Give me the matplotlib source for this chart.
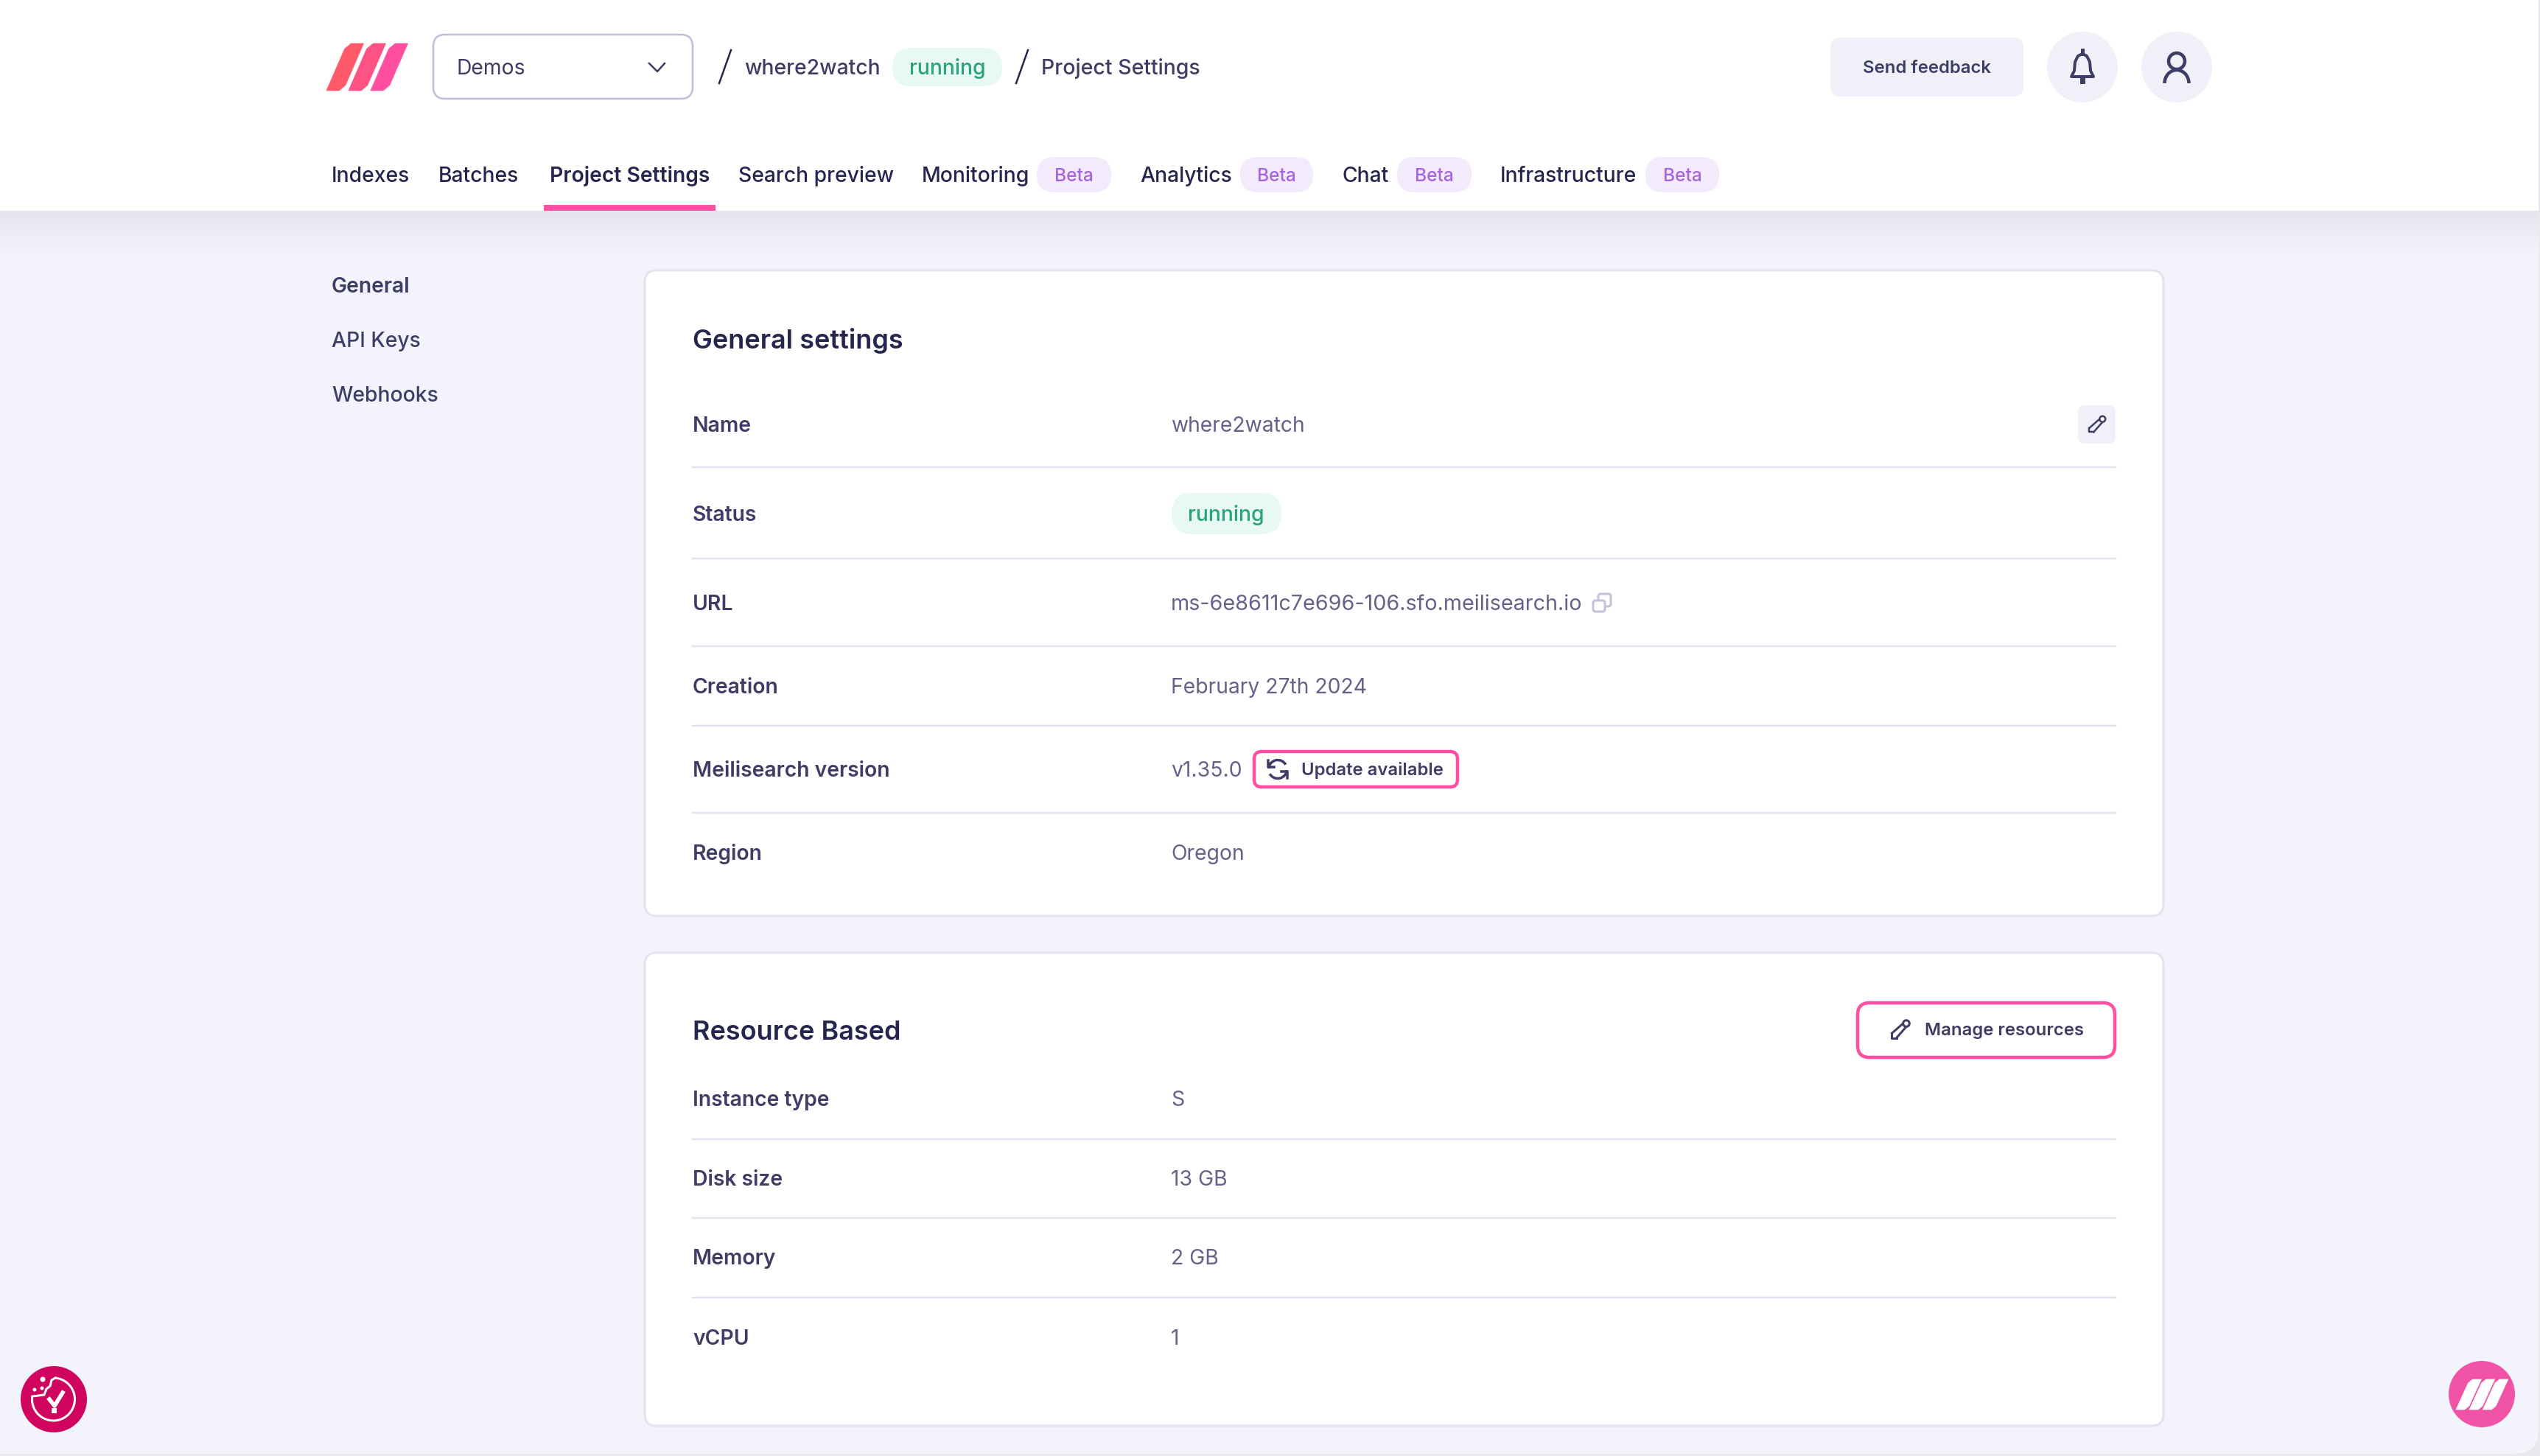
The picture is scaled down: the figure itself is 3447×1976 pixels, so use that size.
import numpy as np
import matplotlib
matplotlib.use('Agg')
import matplotlib.pyplot as plt
from matplotlib.patches import FancyBboxPatch, Rectangle, Circle, Polygon, Arc

plt.rcParams['font.family'] = ['Inter', 'DejaVu Sans']

W, H = 3448, 1976

INK = '#26254d'
LABEL = '#3f3d66'
VALUE = '#65628a'
PINK = '#ff4fa3'
LINE = '#e3e3f0'
PAGE = '#f3f3fb'
SOFT = '#f0f0f8'

BODY = 28.3
SMALL = 23.9

nav_labels = ['Indexes', 'Batches', 'Project Settings', 'Search preview', 'Monitoring', 'Analytics', 'Chat', 'Infrastructure']
nav_x = [450, 595, 746, 1002, 1251, 1547, 1822, 2036]
beta_pills = [(1407, 1508), (1683, 1782), (1896, 1997), (2233, 2333)]

side_labels = ['General', 'API Keys', 'Webhooks']
side_y = [387, 461, 535]

general_labels = ['Name', 'Status', 'URL', 'Creation', 'Meilisearch version', 'Region']
general_values = ['where2watch', 'running', 'ms-6e8611c7e696-106.sfo.meilisearch.io', 'February 27th 2024', 'v1.35.0', 'Oregon']
general_y = [576, 697, 818, 931, 1044, 1157]
general_sep = [634, 758, 877, 985, 1103]

resource_labels = ['Instance type', 'Disk size', 'Memory', 'vCPU']
resource_values = ['S', '13 GB', '2 GB', '1']
resource_y = [1491, 1599, 1706, 1815]
resource_sep = [1546, 1653, 1761]


def lw(px):
    return px * 0.72


def txt(x, yc, s, size=BODY, color=INK, weight='normal', ha='left'):
    # yc is the middle of the cap height, so mixed strings share a baseline
    ax.text(x, yc + 0.36 * size, s, fontsize=size * 0.72, color=color, weight=weight,
            ha=ha, va='baseline')


def box(x0, y0, x1, y1, r, face='white', edge='none', width=0, z=1):
    ax.add_patch(FancyBboxPatch((x0, y0), x1 - x0, y1 - y0, boxstyle=f'round,pad=0,rounding_size={r}',
                                facecolor=face, edgecolor=edge, linewidth=lw(width), zorder=z))


def slanted_bars(x0, y0, x1, y1, colors, bar, pitch, lean, z=3):
    span = x1 - x0
    w, p, s = bar * span, pitch * span, lean * span
    c = w * 0.3
    for i, col in enumerate(colors):
        left = x0 + i * p
        ax.add_patch(Polygon([(left, y1), (left + s - c * 0.2, y0 + c), (left + s + c, y0), (left + s + w, y0),
                              (left + w + c * 0.2, y1 - c), (left + w - c, y1)],
                             closed=True, facecolor=col, edgecolor=col, linewidth=0.5, joinstyle='round', zorder=z))


def pencil(cx, cy, size, color=LABEL, width=3):
    d = size / 2
    gap = size * 0.17
    ax.plot([cx - d, cx + d - gap], [cy + d - gap * 1.6, cy - d], color=color, lw=lw(width), zorder=4)
    ax.plot([cx - d + gap * 1.6, cx + d], [cy + d, cy - d + gap], color=color, lw=lw(width), zorder=4)
    ax.plot([cx - d, cx - d, cx - d + gap * 1.6], [cy + d - gap * 1.6, cy + d, cy + d], color=color, lw=lw(width), zorder=4)
    ax.add_patch(Circle((cx + d - gap * 0.9, cy - d + gap * 0.9), gap * 1.1, facecolor='white', edgecolor=color,
                        linewidth=lw(width), zorder=5))


fig = plt.figure(figsize=(W / 100, H / 100), dpi=100, facecolor='#e8e8ee')
ax = fig.add_axes([0, 0, 1, 1])
ax.set_xlim(0, W)
ax.set_ylim(H, 0)
ax.axis('off')

# page, rounded at the bottom corners
box(-60, -60, W - 3, H - 3, 32, face=PAGE, z=0)

# header shadow
for i in range(60):
    t = i / 59
    c = np.array([0xe3, 0xe4, 0xee]) * (1 - t) + np.array([0xf3, 0xf3, 0xfb]) * t
    ax.add_patch(Rectangle((0, 286 + i), W - 3, 1.2, facecolor=c / 255, edgecolor='none', zorder=0.5))
ax.add_patch(Rectangle((0, 0), W - 3, 286, facecolor='white', edgecolor='none', zorder=0.6))

# top bar
slanted_bars(443, 59, 554, 123, ['#ff5a6a', '#ff5284', '#ff4f9e'], 0.22, 0.27, 0.235)
box(588, 47, 940, 134, 16, edge='#c0bed8', width=2.5)
txt(620, 91, 'Demos', BODY, LABEL)
ax.plot([881, 892, 902], [86, 97, 86], color=LABEL, lw=lw(2.5), zorder=3)
ax.plot([976, 992], [113, 68], color=INK, lw=lw(2.5), zorder=3)
txt(1010, 91, 'where2watch', BODY, LABEL, 'medium')
box(1211, 65, 1360, 117, 26, face='#e8f8f2')
txt(1234, 91, 'running', BODY, '#2aa37a', 'medium')
ax.plot([1379, 1395], [113, 68], color=INK, lw=lw(2.5), zorder=3)
txt(1413, 91, 'Project Settings', BODY + 0.2, LABEL, 'medium')

box(2484, 51, 2746, 131, 14, face=SOFT)
txt(2615, 90, 'Send feedback', SMALL, LABEL, 'semibold', ha='center')
for cx in [2826, 2954]:
    ax.add_patch(Circle((cx, 91), 48, facecolor=SOFT, edgecolor='none', zorder=2))

# bell
ax.add_patch(Polygon([(2811, 104), (2815, 96), (2816, 84), (2820, 76), (2826, 73), (2832, 76), (2836, 84),
                      (2837, 96), (2841, 104)], closed=True, facecolor='none', edgecolor=LABEL,
                     linewidth=lw(4), joinstyle='round', zorder=3))
ax.plot([2826, 2826], [73, 68], color=LABEL, lw=lw(5), zorder=3)
ax.plot([2826, 2826], [105, 110], color=LABEL, lw=lw(7), zorder=3)

# user
ax.add_patch(Circle((2954, 83), 11, facecolor='none', edgecolor=LABEL, linewidth=lw(4.5), zorder=3))
ax.add_patch(Arc((2954, 113), 33, 36, theta1=180, theta2=360, edgecolor=LABEL, linewidth=lw(4.5), zorder=3))

# tabs
for name, x in zip(nav_labels, nav_x):
    active = name == 'Project Settings'
    txt(x, 237, name, BODY, INK, 'semibold' if active else 'medium')
for x0, x1 in beta_pills:
    box(x0, 213, x1, 261, 24, face='#f3ebfb')
    txt((x0 + x1) / 2, 237, 'Beta', 24.5, '#a665dd', 'medium', ha='center')
ax.add_patch(Rectangle((738, 278), 233, 8, facecolor=PINK, edgecolor='none', zorder=3))

# side menu
for i, (name, y) in enumerate(zip(side_labels, side_y)):
    txt(450, y, name, BODY, LABEL, 'semibold' if i == 0 else 'medium')

# cards
box(875, 367, 2936, 1243, 16, edge=LINE, width=3)
box(875, 1293, 2936, 1935, 16, edge=LINE, width=3)

txt(940, 460, 'General settings', 36, INK, 'semibold')
for name, value, y in zip(general_labels, general_values, general_y):
    txt(940, y, name, BODY, LABEL, 'semibold')
    if name == 'Status':
        box(1590, 669, 1739, 725, 28, face='#e8f8f2')
        txt(1612, y, value, BODY, '#2aa37a', 'medium')
    elif name == 'URL':
        txt(1589, y, value, BODY + 0.4, VALUE)
    else:
        txt(1589, y, value, BODY, VALUE)
for y in general_sep:
    ax.plot([940, 2871], [y, y], color=LINE, lw=lw(2.5), zorder=2)

box(2820, 550, 2871, 602, 10, face=SOFT)
pencil(2846, 576, 21, width=2.5)

# copy icon
box(2169, 806, 2186, 823, 3, edge='#c4c1de', width=3, z=3)
box(2162, 815, 2178, 830, 3, face='white', edge='#c4c1de', width=3, z=4)

# update button
box(1702, 1020, 1978, 1068, 10, edge=PINK, width=4.5)
ax.add_patch(Arc((1734, 1044), 25, 25, theta1=185, theta2=330, edgecolor=LABEL, linewidth=lw(3.5), zorder=3))
ax.add_patch(Arc((1734, 1044), 25, 25, theta1=5, theta2=150, edgecolor=LABEL, linewidth=lw(3.5), zorder=3))
ax.plot([1721, 1721, 1729], [1032, 1041, 1041], color=LABEL, lw=lw(3.5), zorder=3)
ax.plot([1747, 1747, 1739], [1056, 1047, 1047], color=LABEL, lw=lw(3.5), zorder=3)
txt(1766, 1043, 'Update available', SMALL, LABEL, 'semibold')

txt(940, 1398, 'Resource Based', 36, INK, 'semibold')
box(2521, 1361, 2870, 1435, 16, edge=PINK, width=4.5)
pencil(2579, 1397, 23, width=3)
txt(2612, 1396, 'Manage resources', SMALL, LABEL, 'semibold')
for name, value, y in zip(resource_labels, resource_values, resource_y):
    txt(940, y, name, BODY, LABEL, 'semibold')
    txt(1589, y, value, BODY, VALUE)
for y in resource_sep:
    ax.plot([940, 2871], [y, y], color=LINE, lw=lw(2.5), zorder=2)

# cookie badge
ax.add_patch(Circle((73, 1899), 45, facecolor='#d0045f', edgecolor='none', zorder=3))
ax.add_patch(Arc((72.5, 1899), 58, 58, theta1=-85, theta2=188, edgecolor='white', linewidth=lw(3), zorder=4))
ax.plot([44, 52, 60, 63, 68, 70, 75], [1895, 1894, 1893, 1885, 1881, 1873, 1870], color='white', lw=lw(3), zorder=4)
for x, y, r in [(58, 1872, 3.5), (47, 1886, 2.5), (57, 1884, 2.5)]:
    ax.add_patch(Circle((x, y), r, facecolor='white', zorder=4))
ax.plot([67, 74, 85], [1899, 1908, 1890], color='white', lw=lw(5.5), zorder=4)
ax.add_patch(Rectangle((70, 1911), 7, 7, facecolor='white', zorder=4))

# logo badge
ax.add_patch(Circle((3368, 1892), 45, facecolor='#f053a5', edgecolor='none', zorder=3))
slanted_bars(3333, 1872, 3403, 1913, ['white', 'white', 'white'], 0.24, 0.26, 0.25, z=4)

fig.savefig('out.png', dpi=100, facecolor=fig.get_facecolor())
